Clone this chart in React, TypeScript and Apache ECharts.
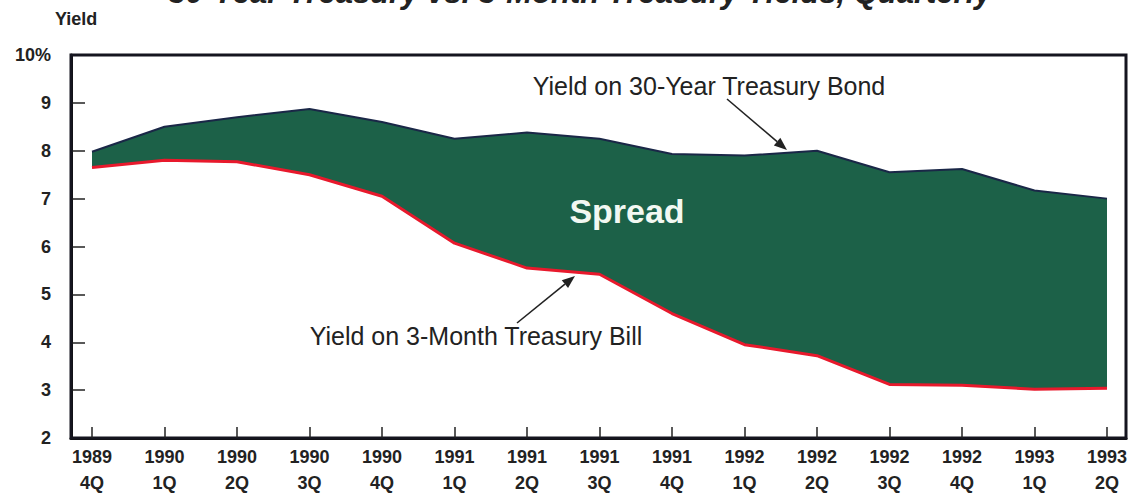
import React, { useEffect, useRef } from "react";
import * as echarts from "echarts";

const years = ["1989", "1990", "1990", "1990", "1990", "1991", "1991", "1991", "1991", "1992", "1992", "1992", "1992", "1993", "1993"];
const quarters = ["4Q", "1Q", "2Q", "3Q", "4Q", "1Q", "2Q", "3Q", "4Q", "1Q", "2Q", "3Q", "4Q", "1Q", "2Q"];
const bond30 = [7.98, 8.5, 8.7, 8.87, 8.6, 8.25, 8.38, 8.25, 7.93, 7.9, 8.0, 7.55, 7.62, 7.17, 7.0];
const bill3 = [7.65, 7.8, 7.77, 7.5, 7.05, 6.07, 5.55, 5.42, 4.6, 3.95, 3.72, 3.12, 3.1, 3.02, 3.04];
const yTicks = [2, 3, 4, 5, 6, 7, 8, 9, 10];

const FONT = '"Liberation Sans", Arial, Helvetica, sans-serif';

function arrow(x1: number, y1: number, x2: number, y2: number) {
  const ang = Math.atan2(y2 - y1, x2 - x1);
  const L = 13;
  const W = 5;
  const bx = x2 - L * Math.cos(ang);
  const by = y2 - L * Math.sin(ang);
  const px = -Math.sin(ang) * W;
  const py = Math.cos(ang) * W;
  return [
    { type: "line", shape: { x1, y1, x2: bx, y2: by }, style: { stroke: "#222", lineWidth: 1.6 }, z: 20 },
    {
      type: "polygon",
      shape: { points: [[x2, y2], [bx + px, by + py], [bx - px, by - py]] },
      style: { fill: "#222" },
      z: 20,
    },
  ];
}

export default function App() {
  const ref = useRef<HTMLDivElement>(null);
  useEffect(() => {
    if (!ref.current) return;
    const chart = echarts.init(ref.current, null, { renderer: "svg" });
    const cats = years.map((y, i) => y + "\n" + quarters[i]);
    const yMin = yTicks[0];
    const yMax = yTicks[yTicks.length - 1];
    const option: any = {
      animation: false,
      backgroundColor: "#ffffff",
      grid: [
        { left: 92, right: 25, top: 55, bottom: 58, show: false },
        { left: 71, right: 6, top: 55, bottom: 58, show: true, borderColor: "#15151f", borderWidth: 3, backgroundColor: "transparent", z: 5 },
      ],
      xAxis: [
        {
          type: "category",
          gridIndex: 0,
          data: cats,
          boundaryGap: false,
          axisLine: { show: false },
          axisTick: { show: true, inside: true, length: 11, alignWithLabel: true, lineStyle: { color: "#222", width: 1.5 } },
          axisLabel: {
            interval: 0,
            margin: 6,
            lineHeight: 26,
            fontSize: 18,
            fontWeight: "bold",
            fontFamily: FONT,
            color: "#222",
          },
          splitLine: { show: false },
          z: 6,
        },
        {
          type: "value",
          gridIndex: 1,
          min: 0,
          max: 1,
          axisLine: { show: true, lineStyle: { color: "#111", width: 3 } },
          axisTick: { show: false },
          axisLabel: { show: false },
          splitLine: { show: false },
        },
      ],
      yAxis: [
        {
          type: "value",
          gridIndex: 0,
          min: yMin,
          max: yMax,
          interval: 1,
          show: false,
          splitLine: { show: false },
        },
        {
          type: "value",
          gridIndex: 1,
          min: yMin,
          max: yMax,
          interval: 1,
          splitLine: { show: false },
          axisLine: { show: true, lineStyle: { color: "#111", width: 3 } },
          axisTick: { show: true, inside: true, length: 14, lineStyle: { color: "#222", width: 1.5 } },
          axisLabel: {
            formatter: (v: number) => (v === 10 ? "10%" : String(v)),
            margin: 20,
            fontSize: 18,
            fontWeight: "bold",
            fontFamily: FONT,
            color: "#222",
          },
        },
      ],
      series: [
        {
          name: "Yield on 3-Month Treasury Bill",
          type: "line",
          xAxisIndex: 0,
          yAxisIndex: 0,
          stack: "y",
          data: bill3,
          symbol: "none",
          lineStyle: { color: "#e8192c", width: 3 },
          z: 4,
        },
        {
          name: "Spread",
          type: "line",
          xAxisIndex: 0,
          yAxisIndex: 0,
          stack: "y",
          data: bond30.map((v, i) => +(v - bill3[i]).toFixed(3)),
          symbol: "none",
          lineStyle: { color: "#1a2747", width: 2 },
          areaStyle: { color: "#1c6148", opacity: 1 },
          z: 3,
        },
      ],
      graphic: [
        {
          type: "text",
          x: 580,
          y: 8,
          style: {
            text: "30-Year Treasury vs. 3-Month Treasury Yields, Quarterly",
            font: `italic bold 31px ${FONT}`,
            fill: "#222",
            textAlign: "center",
            textVerticalAlign: "bottom",
          },
        },
        {
          type: "text",
          x: 55,
          y: 19,
          style: { text: "Yield", font: `bold 18px ${FONT}`, fill: "#222", textAlign: "left", textVerticalAlign: "middle" },
        },
        {
          type: "text",
          x: 627,
          y: 211,
          z: 20,
          style: { text: "Spread", font: `bold 34px ${FONT}`, fill: "#f2f8f2", textAlign: "center", textVerticalAlign: "middle" },
        },
        {
          type: "text",
          x: 709,
          y: 86,
          z: 20,
          style: { text: "Yield on 30-Year Treasury Bond", font: `25px ${FONT}`, fill: "#222", textAlign: "center", textVerticalAlign: "middle" },
        },
        {
          type: "text",
          x: 476,
          y: 336,
          z: 20,
          style: { text: "Yield on 3-Month Treasury Bill", font: `25px ${FONT}`, fill: "#222", textAlign: "center", textVerticalAlign: "middle" },
        },
        ...arrow(727, 99, 787, 150),
        ...arrow(517, 323, 575, 276),
      ],
    };
    chart.setOption(option);
    return () => chart.dispose();
  }, []);
  return (
    <div
      ref={ref}
      style={{ position: "fixed", left: 0, top: 0, width: 1132, height: 496, background: "#fff" }}
    />
  );
}
